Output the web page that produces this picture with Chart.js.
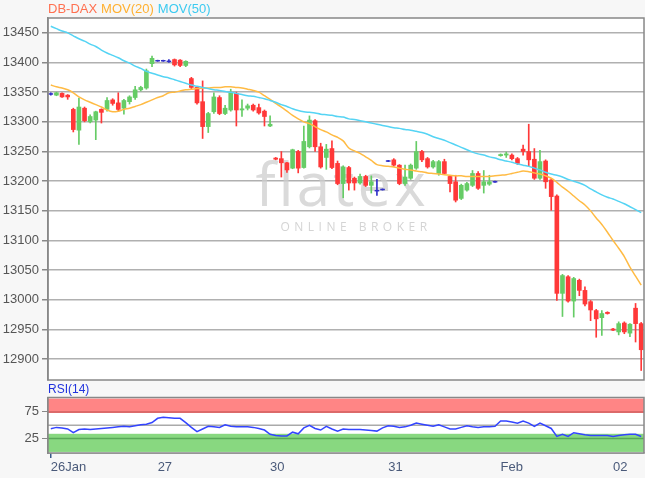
<!DOCTYPE html>
<html>
<head>
<meta charset="utf-8">
<script src="https://cdn.jsdelivr.net/npm/chart.js@4.4.0/dist/chart.umd.min.js"></script>
<style>
  html, body { margin: 0; padding: 0; background: #f7f7f7; }
  #wrap { position: relative; width: 645px; height: 478px; }
  .box { position: absolute; left: 0; width: 645px; }
</style>
</head>
<body>
<div id="wrap">
  <div class="box" style="top:0;height:383px"><canvas id="main"></canvas></div>
  <div class="box" style="top:383px;height:95px"><canvas id="rsi"></canvas></div>
</div>
<script>
// hourly candles, 26 Jan - 02 Feb
const opens = [13347,13345,13348,13345,13321,13286,13323,13300,13303,13321,13321,13337,13332,13323,13334,13341,13354,13357,13398,13403,
  13403,13402,13405,13404,13395,13373,13358,13334,13292,13317,13341,13314,13320,13348,13320,13323,13328,13324,13318,13293,
  13239,13238,13231,13222,13250,13223,13258,13302,13258,13240,13255,13230,13196,13223,13205,13197,13208,13193,13184,13186,
  13234,13236,13227,13196,13205,13222,13250,13238,13224,13213,13233,13208,13199,13171,13185,13193,13213,13193,13195,13199,
  13243,13244,13244,13238,13254,13250,13237,13205,13234,13202,13175,13011,13039,12998,13033,13016,12997,12982,12970,12979,
  12951,12946,12961,12944,12986,12960];
const highs = [13349,13350,13349,13346,13323,13340,13325,13312,13318,13322,13341,13339,13349,13338,13344,13360,13360,13389,13411,13404,
  13404,13405,13406,13405,13403,13375,13360,13369,13316,13349,13344,13328,13355,13350,13337,13330,13330,13330,13320,13310,
  13240,13250,13232,13254,13252,13293,13310,13304,13264,13262,13268,13234,13226,13225,13207,13212,13210,13209,13203,13187,
  13235,13238,13228,13227,13229,13267,13252,13240,13235,13235,13237,13210,13210,13195,13198,13218,13216,13218,13210,13200,
  13246,13249,13246,13240,13261,13296,13255,13252,13236,13204,13177,13043,13041,13038,13035,13022,12999,12984,12982,12980,
  12952,12963,12963,12960,12994,12962];
const lows = [13345,13344,13341,13338,13283,13262,13300,13298,13270,13298,13318,13328,13318,13313,13330,13338,13352,13355,13393,13402,
  13402,13400,13394,13393,13393,13355,13330,13272,13282,13314,13312,13312,13318,13293,13309,13320,13318,13313,13293,13292,
  13236,13207,13215,13221,13214,13222,13256,13250,13222,13220,13221,13194,13172,13185,13185,13195,13191,13180,13176,13185,
  13233,13225,13194,13193,13203,13220,13233,13222,13222,13210,13211,13182,13165,13169,13183,13191,13186,13180,13193,13198,
  13242,13240,13236,13228,13244,13225,13203,13203,13188,13151,12999,12972,12996,12971,13007,12990,12965,12937,12940,12976,
  12948,12941,12943,12938,12929,12881];
const closes = [13347,13349,13342,13342,13287,13325,13302,13309,13317,13316,13336,13331,13321,13336,13342,13354,13358,13386,13407,13403,
  13403,13402,13396,13395,13402,13358,13332,13292,13314,13342,13314,13323,13349,13320,13322,13327,13320,13315,13309,13296,
  13237,13231,13219,13253,13222,13267,13303,13258,13224,13254,13223,13196,13224,13197,13197,13208,13193,13199,13184,13186,
  13234,13227,13196,13207,13227,13250,13236,13224,13233,13233,13213,13196,13168,13193,13196,13213,13188,13199,13199,13199,
  13245,13246,13238,13230,13250,13236,13205,13233,13199,13174,13011,13041,12998,13036,13016,12993,12983,12968,12977,12977,
  12949,12960,12946,12959,12960,12916];

const mov20 = [13362,13359,13357,13354,13349,13342,13337,13333,13329,13325,13320,13317,13318,13321,13323,13326,13329,13333,13337,13341,
  13344,13349,13350,13352,13354,13355,13356,13357,13357,13358,13358,13359,13359,13358,13357,13355,13353,13350,13344,13338,
  13331,13325,13318,13311,13305,13300,13297,13292,13287,13283,13278,13274,13268,13256,13251,13247,13241,13235,13228,13226,
  13225,13224,13222,13220,13219,13217,13216,13214,13213,13212,13211,13210,13209,13209,13208,13208,13208,13208,13208,13209,
  13210,13211,13213,13215,13217,13216,13214,13212,13209,13205,13198,13190,13183,13175,13167,13160,13150,13138,13127,13114,
  13100,13087,13073,13055,13040,13025];
const mov50 = [13461,13457,13453,13450,13445,13440,13436,13431,13427,13421,13416,13412,13408,13403,13399,13394,13390,13385,13382,13379,
  13376,13374,13371,13368,13365,13362,13360,13358,13356,13354,13353,13351,13350,13348,13346,13344,13343,13341,13339,13336,
  13333,13329,13326,13322,13319,13317,13316,13315,13313,13312,13311,13309,13308,13305,13304,13302,13300,13298,13296,13294,
  13292,13290,13289,13287,13286,13284,13282,13279,13275,13272,13269,13265,13261,13257,13253,13249,13246,13244,13241,13239,
  13236,13234,13232,13229,13227,13225,13222,13219,13215,13212,13210,13207,13203,13200,13197,13193,13187,13182,13177,13173,
  13170,13166,13162,13157,13152,13147];
const rsi14 = [43.5,46,45,43,36,42,43,42,43,44,45,46,47,48,47,49,51,52,55,63,
  65,64,63,63,55,46,38,43,48,47,46,51,48,47,47,47,46,44,41,33,
  31,30,30,37,34,45,50,44,41,48,43,39,43,42,42,42,41,40,39,45,
  49,48,46,47,50,54,52,50,48,51,47,43,43,46,49,47,46,47,47,48,
  58,58,56,54,58,54,48,54,49,44,29,33,29,36,34,32,31,31,31,31,
  29,31,32,33,33,29];

const dayTicks = [0, 19, 39, 60, 80, 100];
const dayLabels = ['26Jan', '27', '30', '31', 'Feb', '02'];
const extraTicks = [20];
const priceTicks = [12900, 12950, 13000, 13050, 13100, 13150, 13200, 13250, 13300, 13350, 13400, 13450];
const rsiTicks = [25, 75];

const labels = opens.map((o, i) => i);
const UP = '#66cc66', DOWN = '#ff3838', FLAT = '#3030c8';
const colors = opens.map((o, i) => closes[i] > o ? UP : (closes[i] < o ? DOWN : FLAT));
const wicks = lows.map((l, i) => [l, highs[i]]);
const bodies = opens.map((o, i) => {
  let a = Math.min(o, closes[i]), b = Math.max(o, closes[i]);
  if (b - a < 1.4) { const m = (a + b) / 2; a = m - 0.7; b = m + 0.7; }
  return [a, b];
});

const font13 = { family: 'Liberation Sans', size: 13 };
const noEdgePad = s => { s.width = 48; s.paddingTop = 0; s.paddingBottom = 0; };

const mainDecor = {
  id: 'mainDecor',
  beforeDraw(chart) {
    const { ctx, chartArea: a } = chart;
    ctx.save();
    ctx.fillStyle = '#fff';
    ctx.fillRect(a.left, a.top, a.right - a.left, a.bottom - a.top);
    ctx.restore();
  },
  beforeDatasetsDraw(chart) {
    const { ctx } = chart;
    ctx.save();
    ctx.fillStyle = 'rgba(205,205,205,0.75)';
    ctx.textAlign = 'center';
    ctx.textBaseline = 'alphabetic';
    ctx.font = '400 60px "Open Sans"';
    ctx.letterSpacing = '3px';
    ctx.fillText('flatex', 342, 206);
    ctx.font = '12px "Open Sans"';
    ctx.letterSpacing = '4.5px';
    ctx.fillStyle = 'rgba(205,205,205,0.85)';
    ctx.fillText('ONLINE BROKER', 356, 231);
    ctx.restore();
  },
  afterDraw(chart) {
    const { ctx, chartArea: a } = chart;
    ctx.save();
    ctx.strokeStyle = '#888';
    ctx.lineWidth = 1.5;
    ctx.strokeRect(a.left, a.top, a.right - a.left, a.bottom - a.top);
    ctx.font = '13px "Liberation Sans"';
    ctx.textBaseline = 'middle';
    let x = 48;
    [['DB-DAX', '#ff7050'], ['MOV(20)', '#ffb030'], ['MOV(50)', '#3ccaf0']].forEach(([t, c]) => {
      ctx.fillStyle = c;
      ctx.fillText(t, x, 9);
      x += ctx.measureText(t).width + 4;
    });
    ctx.restore();
  }
};

new Chart(document.getElementById('main'), {
  type: 'bar',
  data: {
    labels: labels,
    datasets: [
      { type: 'line', data: mov50, borderColor: '#55d4f4', borderWidth: 1.5, pointRadius: 0, tension: 0.3, order: 0 },
      { type: 'line', data: mov20, borderColor: '#ffbb44', borderWidth: 1.5, pointRadius: 0, tension: 0.3, order: 0 },
      { data: wicks, backgroundColor: colors, barThickness: 1, grouped: false, order: 2 },
      { data: bodies, backgroundColor: colors, barThickness: 4, grouped: false, order: 1 }
    ]
  },
  options: {
    responsive: true,
    maintainAspectRatio: false,
    animation: false,
    layout: { padding: { top: 18, right: 1, bottom: 3, left: 0 } },
    plugins: { legend: { display: false }, tooltip: { enabled: false } },
    scales: {
      x: { display: false, offset: true },
      y: {
        min: 12865, max: 13475,
        afterBuildTicks: s => { s.ticks = priceTicks.map(v => ({ value: v })); },
        afterFit: noEdgePad,
        grid: { color: '#b0b0b0', lineWidth: 1.5, tickLength: 6, tickColor: '#888' },
        border: { color: '#888', width: 1.5 },
        ticks: { color: '#555', font: font13, padding: 3, callback: v => String(v) }
      }
    }
  },
  plugins: [mainDecor]
});

const rsiDecor = {
  id: 'rsiDecor',
  beforeDatasetsDraw(chart) {
    const { ctx, chartArea: a, scales: { y } } = chart;
    const w = a.right - a.left;
    ctx.save();
    ctx.fillStyle = '#fff';
    ctx.fillRect(a.left, a.top, w, a.bottom - a.top);
    ctx.fillStyle = '#ff8585';
    ctx.fillRect(a.left, y.getPixelForValue(100), w, y.getPixelForValue(73) - y.getPixelForValue(100));
    ctx.fillStyle = '#88d880';
    ctx.fillRect(a.left, y.getPixelForValue(34), w, y.getPixelForValue(0) - y.getPixelForValue(34));
    ctx.lineWidth = 1.5;
    [[75, '#d06060'], [50, '#aaa'], [25, '#58a858']].forEach(([v, c]) => {
      ctx.strokeStyle = c;
      ctx.beginPath();
      ctx.moveTo(a.left, y.getPixelForValue(v));
      ctx.lineTo(a.right, y.getPixelForValue(v));
      ctx.stroke();
    });
    ctx.restore();
  },
  afterDraw(chart) {
    const { ctx, chartArea: a } = chart;
    ctx.save();
    ctx.strokeStyle = '#888';
    ctx.lineWidth = 1.5;
    ctx.strokeRect(a.left, a.top, a.right - a.left, a.bottom - a.top);
    ctx.font = '12px "Liberation Sans"';
    ctx.textBaseline = 'middle';
    ctx.fillStyle = '#2233dd';
    ctx.fillText('RSI(14)', 48, 7);
    ctx.restore();
  }
};

new Chart(document.getElementById('rsi'), {
  type: 'line',
  data: {
    labels: labels,
    datasets: [{ data: rsi14, borderColor: '#3344ff', borderWidth: 1.5, pointRadius: 0, tension: 0 }]
  },
  options: {
    responsive: true,
    maintainAspectRatio: false,
    animation: false,
    layout: { padding: { top: 14.5, right: 1, bottom: 0, left: 0 } },
    plugins: { legend: { display: false }, tooltip: { enabled: false } },
    scales: {
      x: {
        offset: true,
        afterFit: s => { s.height = 25; },
        grid: {
          drawOnChartArea: false, offset: false, tickLength: 5, lineWidth: 1.5,
          tickColor: c => (dayTicks.includes(c.index) || extraTicks.includes(c.index)) ? '#3a5a8a' : 'rgba(0,0,0,0)'
        },
        border: { color: '#888', width: 1.5 },
        ticks: {
          autoSkip: false, maxRotation: 0, align: 'start', padding: 2, color: '#4a5a7a', font: font13,
          callback: (v, i) => {
            const k = dayTicks.indexOf(i);
            return k >= 0 ? dayLabels[k] : null;
          }
        }
      },
      y: {
        min: -2, max: 102,
        afterBuildTicks: s => { s.ticks = rsiTicks.map(v => ({ value: v })); },
        afterFit: noEdgePad,
        grid: { drawOnChartArea: false, tickLength: 6, tickColor: '#888' },
        border: { color: '#888', width: 1.5 },
        ticks: { color: '#555', font: font13, padding: 3 }
      }
    }
  },
  plugins: [rsiDecor]
});
</script>
</body>
</html>
